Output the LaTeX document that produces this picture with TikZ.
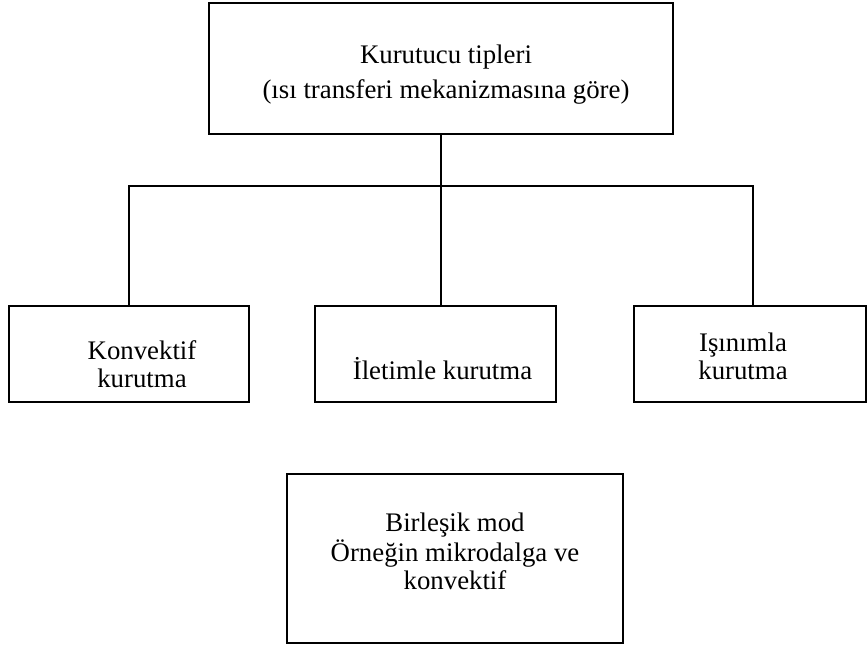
\documentclass[tikz,border=0pt]{standalone}
\usepackage{fontspec}
\setmainfont{Liberation Serif}
\usetikzlibrary{positioning}
% move the text of a box a little (#1 sideways, #2 down), keeping the box where it is
\newcommand{\shifttext}[3]{\hspace*{#1}\raisebox{-#2}[\height][\depth]{\begin{tabular}{@{}c@{}}#3\end{tabular}}}
\begin{document}
\begin{tikzpicture}[x=0.5pt,y=-0.5pt,font=\fontsize{13.4}{14}\selectfont]
  \tikzstyle{k}=[draw,line width=1pt,inner sep=2pt]
  \tikzstyle{ln}=[line width=1pt]
  \useasboundingbox (0,0) rectangle (867,648);
  \node[k,font=\fontsize{13.4}{17.5}\selectfont,minimum width=232pt,minimum height=65.5pt] (top) at (441,68) {\shifttext{5pt}{3pt}{Kurutucu tipleri\\(ısı transferi mekanizmasına göre)}};
  \node[k,minimum width=120pt,minimum height=48pt] (konv) at (129,354) {\shifttext{13pt}{6.75pt}{Konvektif\\kurutma}};
  \node[k,minimum width=120.5pt,minimum height=48pt] (ilet) at (435.5,354) {\shifttext{7pt}{9.5pt}{İletimle kurutma}};
  \node[k,minimum width=116pt,minimum height=48pt] (isin) at (750,354) {\shifttext{-7pt}{2.75pt}{Işınımla\\kurutma}};
  \node[k,minimum width=168pt,minimum height=84.5pt] (bir) at (455,558.5) {\shifttext{0pt}{-2pt}{Birleşik mod\\Örneğin mikrodalga ve\\konvektif}};
  \coordinate (bus) at (441,186);
  \draw[ln] (top.south) -- (top.south |- ilet.north);
  \draw[ln] (konv.north) -- (konv.north |- bus) -- ([xshift=1.5pt]isin.north |- bus) -- ([xshift=1.5pt]isin.north);
\end{tikzpicture}
\end{document}
